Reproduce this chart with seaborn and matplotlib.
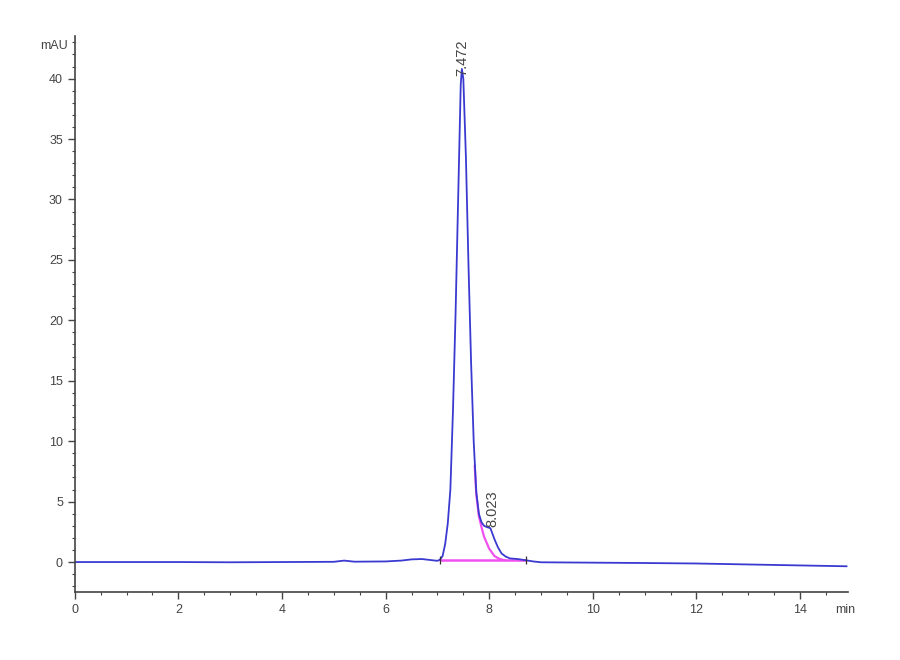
import pandas as pd
import matplotlib.pyplot as plt
from matplotlib.ticker import MultipleLocator
import seaborn as sns

# chromatogram trace
time_min = [0, 1, 2, 3, 4, 5.0, 5.2, 5.4, 6.0, 6.3, 6.5, 6.7, 6.9, 7.0, 7.05, 7.10,
            7.15, 7.20, 7.25, 7.30, 7.35, 7.40, 7.45, 7.472, 7.50, 7.55, 7.60, 7.65,
            7.70, 7.75, 7.80, 7.85, 7.90, 7.95, 8.023, 8.10, 8.17, 8.24, 8.32, 8.40,
            8.55, 8.70, 8.85, 9.0, 10, 11, 12, 13, 14, 14.9]
signal_mau = [0.0, 0.0, 0.0, -0.02, 0.0, 0.02, 0.12, 0.03, 0.05, 0.12, 0.22, 0.25, 0.15,
              0.1, 0.2, 0.5, 1.5, 3.2, 6.0, 12.5, 20.5, 30.0, 39.5, 40.8, 40.0, 33.5,
              24.5, 16.5, 10.0, 5.8, 4.0, 3.3, 3.0, 2.9, 2.8, 1.9, 1.2, 0.7, 0.45, 0.3,
              0.25, 0.15, 0.05, -0.02, -0.05, -0.08, -0.12, -0.2, -0.28, -0.35]

# fitted tail of main peak
fit_time = [7.72, 7.75, 7.80, 7.85, 7.90, 7.95, 8.0, 8.1, 8.2, 8.3]
fit_mau = [8.0, 5.6, 3.8, 2.9, 2.1, 1.6, 1.1, 0.5, 0.25, 0.15]

# integration baseline
base_time = [7.05, 8.71]
base_mau = [0.15, 0.15]

peak_rt = [7.472, 8.023]
peak_h = [40.2, 2.9]
peak_lbl = ['7.472', '8.023']

sns.set_style("ticks")
plt.rcParams['font.family'] = ['Liberation Sans Narrow', 'Liberation Sans', 'DejaVu Sans']

df = pd.DataFrame({'t': time_min, 'y': signal_mau})
df_fit = pd.DataFrame({'t': fit_time, 'y': fit_mau})
df_base = pd.DataFrame({'t': base_time, 'y': base_mau})

fig = plt.figure(figsize=(9, 6.6), dpi=100)
ax = fig.add_axes([0.083, 0.103, 0.859, 0.842])

sns.lineplot(x='t', y='y', data=df_base, color='#f050f0', lw=1.8, ax=ax)
sns.lineplot(x='t', y='y', data=df_fit, color='#f050f0', lw=1.6, ax=ax)
sns.lineplot(x='t', y='y', data=df, color='#3a3ad0', lw=1.3, estimator=None, ax=ax)

# integration event marks
ax.vlines(base_time, [b - 0.35 for b in base_mau], [b + 0.35 for b in base_mau],
          color='#333333', lw=0.9)

for rt, h, lbl in zip(peak_rt, peak_h, peak_lbl):
    dx = 0.0 if h > 10 else 0.03
    ax.text(rt + dx, h, lbl, rotation=90, ha='center', va='bottom',
            fontsize=10.5, color='#444444')

ax.set_xlim(0, 14.92)
ax.set_ylim(-2.48, 43.5)
ax.xaxis.set_major_locator(MultipleLocator(2))
ax.xaxis.set_minor_locator(MultipleLocator(0.5))
ax.yaxis.set_major_locator(MultipleLocator(5))
ax.yaxis.set_minor_locator(MultipleLocator(1))
ax.tick_params(which='major', length=5, width=1, colors='#444444', labelsize=9)
ax.tick_params(which='minor', length=2.5, width=0.8, colors='#444444')
ax.set_xlabel('')
ax.set_ylabel('')
sns.despine(ax=ax)
for s in ['left', 'bottom']:
    ax.spines[s].set_color('#444444')
    ax.spines[s].set_linewidth(1.2)

fig.text(40 / 900, 1 - 46 / 660, 'mAU', fontsize=9, color='#444444', va='center')
fig.text(835 / 900, 1 - 610 / 660, 'min', fontsize=9, color='#444444', va='center')

plt.savefig('out.png', dpi=100)
